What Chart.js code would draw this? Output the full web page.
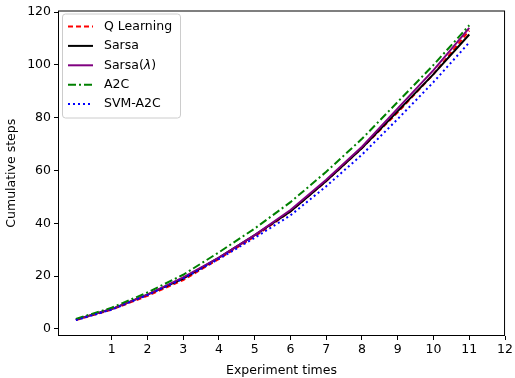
<!DOCTYPE html>
<html>
<head>
<meta charset="utf-8">
<script src="https://cdn.jsdelivr.net/npm/chart.js@4"></script>
<style>
  html, body { margin: 0; padding: 0; background: #fff; }
  #wrap { width: 515px; height: 378px; }
</style>
</head>
<body>
<div id="wrap"><canvas id="chart" width="515" height="378"></canvas></div>
<script>
'use strict';

// experiment index (x) and cumulative steps per method
var experiments = [0, 1, 2, 3, 4, 5, 6, 7, 8, 9, 10, 11];
var q_learning = [3.3, 7.3, 12.5, 18.5, 26.5, 35.0, 44.5, 56.0, 68.5, 82.0, 96.5, 113.0];
var sarsa      = [3.5, 7.5, 13.0, 19.0, 27.0, 35.5, 44.5, 56.0, 68.5, 82.5, 96.5, 111.5];
var sarsa_lam  = [3.5, 7.5, 13.0, 19.5, 27.0, 35.5, 45.0, 56.5, 69.0, 83.5, 98.0, 114.0];
var a2c        = [3.8, 8.0, 13.8, 20.5, 29.0, 38.0, 48.0, 59.5, 72.0, 86.0, 100.0, 115.0];
var svm_a2c    = [3.3, 7.3, 12.8, 19.0, 26.5, 34.5, 43.0, 54.0, 66.0, 79.5, 93.5, 108.5];

var x_ticks = [1, 2, 3, 4, 5, 6, 7, 8, 9, 10, 11, 12];
var y_ticks = [0, 20, 40, 60, 80, 100, 120];

var FONT = 'DejaVu Sans';
var FSIZE = 12.5;

function pts(ys) {
    return ys.map((y, i) => ({x: experiments[i], y: y}));
}

function series(label, ys, color, dash, order) {
    return {
        label: label,
        data: pts(ys),
        borderColor: color,
        backgroundColor: color,
        borderWidth: 2,
        borderDash: dash,
        pointRadius: 0,
        tension: 0,
        fill: false,
        order: order
    };
}

// box around the plot + matplotlib style legend in the upper left
var frame_plugin = {
    id: 'frame',
    afterDatasetsDraw(chart) {
        var ctx = chart.ctx;
        var a = chart.chartArea;
        ctx.save();
        ctx.strokeStyle = '#000';
        ctx.lineWidth = 1;
        ctx.strokeRect(a.left + 0.5, a.top + 0.5, a.right - a.left - 1, a.bottom - a.top - 1);

        // legend box
        var lx = a.left + 4, ly = a.top + 3, lw = 118, lh = 104;
        ctx.fillStyle = 'rgba(255,255,255,0.8)';
        ctx.strokeStyle = '#cccccc';
        ctx.beginPath();
        if (ctx.roundRect) ctx.roundRect(lx + 0.5, ly + 0.5, lw, lh, 3); else ctx.rect(lx + 0.5, ly + 0.5, lw, lh);
        ctx.fill();
        ctx.stroke();

        var font = FSIZE + 'px "' + FONT + '"';
        ctx.font = font;
        ctx.textBaseline = 'middle';
        chart.data.datasets.forEach((ds, i) => {
            var yy = ly + 13 + i * 19.4;
            ctx.strokeStyle = ds.borderColor;
            ctx.lineWidth = ds.borderWidth;
            ctx.setLineDash(ds.borderDash || []);
            ctx.beginPath();
            ctx.moveTo(lx + 6, yy);
            ctx.lineTo(lx + 31, yy);
            ctx.stroke();
            ctx.setLineDash([]);
            ctx.fillStyle = '#000';
            var tx = lx + 42;
            // italic lambda like the mathtext label
            var m = ds.label.match(/^(.*\()(λ)(\).*)$/);
            if (m) {
                ctx.fillText(m[1], tx, yy);
                tx += ctx.measureText(m[1]).width;
                ctx.font = 'italic ' + font;
                ctx.fillText(m[2], tx, yy);
                tx += ctx.measureText(m[2]).width;
                ctx.font = font;
                ctx.fillText(m[3], tx, yy);
            } else {
                ctx.fillText(ds.label, tx, yy);
            }
        });
        ctx.restore();
    }
};

var chart = new Chart(document.getElementById('chart'), {
    type: 'line',
    data: {
        datasets: [
            series('Q Learning', q_learning, '#ff0000', [5, 3], 5),
            series('Sarsa', sarsa, '#000000', [], 4),
            series('Sarsa(λ)', sarsa_lam, '#800080', [], 3),
            series('A2C', a2c, '#008000', [8, 3, 2, 3], 2),
            series('SVM-A2C', svm_a2c, '#0000ff', [2, 3], 1)
        ]
    },
    options: {
        responsive: false,
        animation: false,
        layout: {padding: {left: 0, right: 3, top: 7, bottom: 0}},
        plugins: {
            legend: {display: false},
            tooltip: {enabled: false}
        },
        scales: {
            x: {
                type: 'linear',
                min: -0.5,
                max: 12,
                afterBuildTicks: axis => { axis.ticks = x_ticks.map(v => ({value: v})); },
                afterFit: axis => { axis.height = 42; },
                grid: {drawOnChartArea: false, drawTicks: true, tickLength: 4, color: '#000'},
                border: {display: false},
                ticks: {color: '#000', font: {family: FONT, size: FSIZE}, padding: 2, maxRotation: 0},
                title: {display: true, text: 'Experiment times', color: '#000', font: {family: FONT, size: FSIZE}, padding: {top: 0, bottom: 0}}
            },
            y: {
                type: 'linear',
                min: -2.7,
                max: 120.6,
                afterBuildTicks: axis => { axis.ticks = y_ticks.map(v => ({value: v})); },
                afterFit: axis => { axis.width = 58; },
                grid: {drawOnChartArea: false, drawTicks: true, tickLength: 4, color: '#000'},
                border: {display: false},
                ticks: {color: '#000', font: {family: FONT, size: FSIZE}, padding: 3},
                title: {display: true, text: 'Cumulative steps', color: '#000', font: {family: FONT, size: FSIZE}, padding: {top: 4, bottom: 0}}
            }
        }
    },
    plugins: [frame_plugin]
});
</script>
</body>
</html>
